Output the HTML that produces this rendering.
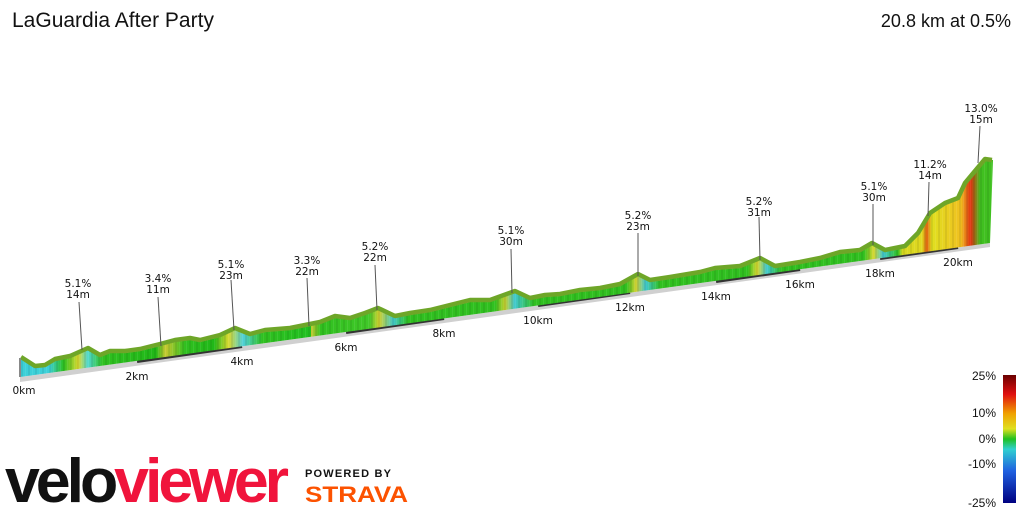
<!DOCTYPE html>
<html><head><meta charset="utf-8"><style>
body{margin:0;background:#fff;width:1024px;height:512px;overflow:hidden;font-family:"Liberation Sans",sans-serif}
</style></head><body>
<svg width="1024" height="512" xmlns="http://www.w3.org/2000/svg">
<defs>
<linearGradient id="side" x1="20" y1="0" x2="990" y2="0" gradientUnits="userSpaceOnUse">
<stop offset="0" stop-color="#3cd0d8"/><stop offset="0.03" stop-color="#3cd0d8"/>
<stop offset="0.045" stop-color="#2cc020"/><stop offset="0.06" stop-color="#d8d830"/><stop offset="0.07" stop-color="#50d8d0"/>
<stop offset="0.085" stop-color="#30c020"/><stop offset="0.14" stop-color="#20b818"/><stop offset="0.15" stop-color="#c8c830"/>
<stop offset="0.17" stop-color="#30c020"/><stop offset="0.2" stop-color="#20b818"/><stop offset="0.215" stop-color="#d8d830"/><stop offset="0.23" stop-color="#50d0d8"/>
<stop offset="0.25" stop-color="#30c020"/><stop offset="0.3" stop-color="#20c020"/><stop offset="0.3" stop-color="#c8c830"/><stop offset="0.31" stop-color="#30c020"/>
<stop offset="0.36" stop-color="#40c828"/><stop offset="0.37" stop-color="#d0d030"/>
<stop offset="0.385" stop-color="#40c8c8"/><stop offset="0.4" stop-color="#30c020"/><stop offset="0.49" stop-color="#30c020"/><stop offset="0.5" stop-color="#c8d030"/>
<stop offset="0.51" stop-color="#40c8d0"/><stop offset="0.53" stop-color="#30c020"/><stop offset="0.625" stop-color="#30c020"/><stop offset="0.635" stop-color="#d0d030"/>
<stop offset="0.645" stop-color="#40c8d0"/><stop offset="0.66" stop-color="#30c020"/><stop offset="0.75" stop-color="#30c020"/><stop offset="0.76" stop-color="#d8d830"/>
<stop offset="0.77" stop-color="#40c8d0"/><stop offset="0.785" stop-color="#30c020"/><stop offset="0.87" stop-color="#30c020"/><stop offset="0.88" stop-color="#d8d830"/>
<stop offset="0.89" stop-color="#40c8d0"/><stop offset="0.905" stop-color="#30c020"/><stop offset="0.91" stop-color="#d8d820"/><stop offset="0.93" stop-color="#e0d820"/>
<stop offset="0.935" stop-color="#e06010"/><stop offset="0.94" stop-color="#e0e020"/><stop offset="0.97" stop-color="#f0c020"/>
<stop offset="0.98" stop-color="#e03010"/><stop offset="0.99" stop-color="#40c020"/><stop offset="1" stop-color="#40c020"/>
</linearGradient>
<pattern id="stripes" x="0" y="0" width="7" height="10" patternUnits="userSpaceOnUse">
<rect x="0" y="0" width="2" height="10" fill="#000" opacity="0.07"/><rect x="4" y="0" width="1" height="10" fill="#fff" opacity="0.08"/>
</pattern>
<clipPath id="pc"><polygon points="20,377 20,358 35,368 45,367 55,361 70,358 88,350 100,357 110,353 125,353 140,351 160,346 175,342 190,340 200,342 220,337 235,330 250,336 265,332 290,330 300,328 320,324 335,318 350,320 365,315 378,310 395,318 410,315 430,312 450,307 470,302 490,302 515,293 530,300 545,297 560,296 580,292 600,290 620,286 638,276 650,282 670,279 700,274 715,270 740,268 760,260 775,268 800,264 820,260 840,254 860,252 872,245 885,252 905,248 918,235 930,215 945,205 958,200 965,185 985,160 993,160 990,243"/></clipPath>
<linearGradient id="leg" x1="0" y1="0" x2="0" y2="1">
<stop offset="0" stop-color="#6a0000"/><stop offset="0.15" stop-color="#e01010"/><stop offset="0.3" stop-color="#f0a000"/>
<stop offset="0.42" stop-color="#e0e020"/><stop offset="0.5" stop-color="#20c020"/><stop offset="0.58" stop-color="#30d0d0"/>
<stop offset="0.75" stop-color="#2060e0"/><stop offset="1" stop-color="#000080"/>
</linearGradient>
</defs>
<text x="12" y="27" font-size="21" fill="#111">LaGuardia After Party</text>
<text x="1011" y="27" font-size="18" fill="#111" text-anchor="end">20.8 km at 0.5%</text>

<polygon points="20,377 990,243 990,247 20,382" fill="#d0d0d0"/>
<g stroke="#333" stroke-width="4">
<line x1="137" y1="361" x2="242" y2="346"/><line x1="346" y1="332" x2="444" y2="318"/>
<line x1="538" y1="305" x2="630" y2="292"/><line x1="716" y1="281" x2="800" y2="269"/>
<line x1="880" y1="258" x2="958" y2="247"/>
</g>
<g clip-path="url(#pc)">
<rect x="0" y="100" width="1000" height="300" fill="url(#side)"/>
<rect x="0" y="100" width="1000" height="300" fill="url(#stripes)"/>
</g>
<polyline fill="none" stroke="#6ea628" stroke-width="4.5" stroke-linejoin="round" points="21,357 35,366 45,365 55,359 70,356 88,348 100,355 110,351 125,351 140,349 160,344 175,340 190,338 200,340 220,335 235,328 250,334 265,330 290,328 300,326 320,322 335,316 350,318 365,313 378,308 395,316 410,313 430,310 450,305 470,300 490,300 515,291 530,298 545,295 560,294 580,290 600,288 620,284 638,274 650,280 670,277 700,272 715,268 740,266 760,258 775,266 800,262 820,258 840,252 860,250 872,243 885,250 905,246 918,233 930,213 945,203 958,198 965,183 985,159 992,160"/>
<line x1="20" y1="358" x2="20" y2="377" stroke="#888" stroke-width="2"/>

<g font-family="'DejaVu Sans',sans-serif" font-size="10.5" fill="#111" text-anchor="middle">
<text x="24" y="394">0km</text><text x="137" y="380">2km</text><text x="242" y="365">4km</text>
<text x="346" y="351">6km</text><text x="444" y="337">8km</text><text x="538" y="324">10km</text>
<text x="630" y="311">12km</text><text x="716" y="300">14km</text><text x="800" y="288">16km</text>
<text x="880" y="277">18km</text><text x="958" y="266">20km</text>
</g>
<g stroke="#555" stroke-width="1">
<line x1="79" y1="302" x2="82" y2="350"/><line x1="158" y1="297" x2="161" y2="346"/>
<line x1="231" y1="280" x2="234" y2="330"/><line x1="307" y1="278" x2="309" y2="326"/>
<line x1="375" y1="265" x2="377" y2="310"/><line x1="511" y1="249" x2="512" y2="293"/>
<line x1="638" y1="233" x2="638" y2="276"/><line x1="759" y1="217" x2="760" y2="260"/>
<line x1="873" y1="204" x2="873" y2="245"/><line x1="929" y1="182" x2="928" y2="216"/>
<line x1="980" y1="126" x2="978" y2="163"/>
</g>
<g font-family="'DejaVu Sans',sans-serif" font-size="10.5" fill="#111" text-anchor="middle">
<text x="78" y="287">5.1%</text><text x="78" y="298">14m</text>
<text x="158" y="282">3.4%</text><text x="158" y="293">11m</text>
<text x="231" y="268">5.1%</text><text x="231" y="279">23m</text>
<text x="307" y="264">3.3%</text><text x="307" y="275">22m</text>
<text x="375" y="250">5.2%</text><text x="375" y="261">22m</text>
<text x="511" y="234">5.1%</text><text x="511" y="245">30m</text>
<text x="638" y="219">5.2%</text><text x="638" y="230">23m</text>
<text x="759" y="205">5.2%</text><text x="759" y="216">31m</text>
<text x="874" y="190">5.1%</text><text x="874" y="201">30m</text>
<text x="930" y="168">11.2%</text><text x="930" y="179">14m</text>
<text x="981" y="112">13.0%</text><text x="981" y="123">15m</text>
</g>

<rect x="1003" y="375" width="13" height="128" fill="url(#leg)"/>
<g font-size="12" fill="#111" text-anchor="end">
<text x="996" y="380">25%</text><text x="996" y="417">10%</text><text x="996" y="443">0%</text>
<text x="996" y="468">-10%</text><text x="996" y="507">-25%</text>
</g>

<text x="5" y="502" font-size="62" font-weight="bold" letter-spacing="-4" textLength="280" lengthAdjust="spacingAndGlyphs"><tspan fill="#111">velo</tspan><tspan fill="#f0143c">viewer</tspan></text>
<text x="305" y="477" font-size="11" font-weight="bold" fill="#111" letter-spacing="1.2">POWERED BY</text>
<text x="305" y="502" font-size="22" font-weight="bold" fill="#fc5200" textLength="103" lengthAdjust="spacingAndGlyphs">STRAVA</text>
</svg>
</body></html>
